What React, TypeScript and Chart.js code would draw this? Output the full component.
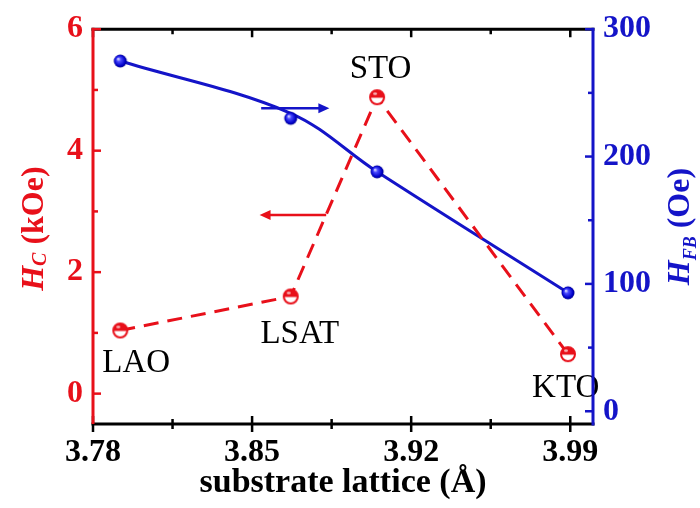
import React, { useEffect, useRef } from 'react';
import { Chart, registerables } from 'chart.js';

Chart.register(...registerables);

const RED = '#e8101a';
const BLUE = '#1414c8';
const FONT = "'Liberation Serif', 'Times New Roman', serif";

// ---- data ----
const substrates = ['LAO', 'LSAT', 'STO', 'KTO'];
const lattice = [3.792, 3.867, 3.905, 3.989];
const hcValues = [1.04, 1.6, 4.88, 0.65];
const hfbValues = [275, 230, 188, 93];
// smooth guide curve through the H_FB data
const fitX = [3.792, 3.867, 3.905, 3.989];
const fitY = [275, 234, 188, 93];

const xTicks = [3.78, 3.815, 3.85, 3.885, 3.92, 3.955, 3.99];
const xTickLabels = ['3.78', '', '3.85', '', '3.92', '', '3.99'];
const hcTicks = [0, 1, 2, 3, 4, 5, 6];
const hcTickLabels = ['0', '', '2', '', '4', '', '6'];
const hfbTicks = [0, 50, 100, 150, 200, 250, 300];
const hfbTickLabels = ['0', '', '100', '', '200', '', '300'];

// substrate label anchors (x in Å, y in kOe)
const labelX = [3.799, 3.871, 3.9065, 3.988];
const labelY = [0.5, 0.98, 5.34, 0.08];

// arrows pointing to each axis
const arrowHfbX = [3.854, 3.884];
const arrowHfbY = 238;
const arrowHcX = [3.8826, 3.8533];
const arrowHcY = 2.94;

function makeHalfMarker(): HTMLCanvasElement {
  const c = document.createElement('canvas');
  c.width = 20;
  c.height = 20;
  const g = c.getContext('2d')!;
  const cx = 10, cy = 10, r = 7;
  g.fillStyle = '#fff';
  g.beginPath();
  g.arc(cx, cy, r, 0, Math.PI * 2);
  g.fill();
  g.fillStyle = RED;
  g.beginPath();
  g.arc(cx, cy + 0.5, r, Math.PI, Math.PI * 2);
  g.closePath();
  g.fill();
  g.strokeStyle = RED;
  g.lineWidth = 2;
  g.beginPath();
  g.arc(cx, cy, r, 0, Math.PI * 2);
  g.stroke();
  g.fillStyle = 'rgba(255,255,255,0.7)';
  g.beginPath();
  g.ellipse(cx - 2, cy - 3.5, 2, 1.3, 0, 0, Math.PI * 2);
  g.fill();
  return c;
}

function makeSphere(): HTMLCanvasElement {
  const c = document.createElement('canvas');
  c.width = 16;
  c.height = 16;
  const g = c.getContext('2d')!;
  const cx = 8, cy = 8, r = 6.5;
  const grad = g.createRadialGradient(cx - 2.2, cy - 2.2, 0.3, cx, cy, r);
  grad.addColorStop(0, '#e0e0ff');
  grad.addColorStop(0.3, '#4a4aff');
  grad.addColorStop(0.8, '#0000c8');
  grad.addColorStop(1, '#00008a');
  g.fillStyle = grad;
  g.beginPath();
  g.arc(cx, cy, r, 0, Math.PI * 2);
  g.fill();
  return c;
}

function drawArrow(ctx: CanvasRenderingContext2D, x1: number, x2: number, y: number, color: string) {
  const dir = Math.sign(x2 - x1);
  const headLen = 11;
  const headHalf = 5;
  ctx.save();
  ctx.strokeStyle = color;
  ctx.fillStyle = color;
  ctx.lineWidth = 2.5;
  ctx.beginPath();
  ctx.moveTo(x1, y);
  ctx.lineTo(x2 - dir * headLen * 0.8, y);
  ctx.stroke();
  ctx.beginPath();
  ctx.moveTo(x2, y);
  ctx.lineTo(x2 - dir * headLen, y - headHalf);
  ctx.lineTo(x2 - dir * headLen, y + headHalf);
  ctx.closePath();
  ctx.fill();
  ctx.restore();
}

function drawSubTitle(
  ctx: CanvasRenderingContext2D,
  x: number,
  y: number,
  main: string,
  sub: string,
  rest: string,
  color: string,
  size: number,
  subSize: number,
  subShift: number
) {
  ctx.save();
  ctx.translate(x, y);
  ctx.rotate(-Math.PI / 2);
  ctx.fillStyle = color;
  ctx.textBaseline = 'alphabetic';
  ctx.textAlign = 'left';
  const fMain = `italic bold ${size}px ${FONT}`;
  const fSub = `italic bold ${subSize}px ${FONT}`;
  const fRest = `bold ${size}px ${FONT}`;
  ctx.font = fMain;
  const w1 = ctx.measureText(main).width;
  ctx.font = fSub;
  const w2 = ctx.measureText(sub).width;
  ctx.font = fRest;
  const w3 = ctx.measureText(rest).width;
  let cx = -(w1 + w2 + w3) / 2;
  ctx.font = fMain;
  ctx.fillText(main, cx, 0);
  cx += w1;
  ctx.font = fSub;
  ctx.fillText(sub, cx, subShift);
  cx += w2;
  ctx.font = fRest;
  ctx.fillText(rest, cx, 0);
  ctx.restore();
}

const framePlugin = {
  id: 'frame',
  afterDatasetsDraw(chart: any) {
    const ctx: CanvasRenderingContext2D = chart.ctx;
    const { left, right, top, bottom } = chart.chartArea;
    const xs = chart.scales.x;
    const yl = chart.scales.y;
    const yr = chart.scales.y1;

    // arrows
    drawArrow(ctx, xs.getPixelForValue(arrowHfbX[0]), xs.getPixelForValue(arrowHfbX[1]), yr.getPixelForValue(arrowHfbY), BLUE);
    drawArrow(ctx, xs.getPixelForValue(arrowHcX[0]), xs.getPixelForValue(arrowHcX[1]), yl.getPixelForValue(arrowHcY), RED);

    // substrate labels
    ctx.save();
    ctx.fillStyle = '#000';
    ctx.font = `33px ${FONT}`;
    ctx.textAlign = 'center';
    ctx.textBaseline = 'middle';
    substrates.forEach((s, i) => {
      ctx.fillText(s, xs.getPixelForValue(labelX[i]), yl.getPixelForValue(labelY[i]));
    });
    ctx.restore();

    // axes lines
    ctx.save();
    ctx.lineWidth = 3;
    ctx.lineCap = 'butt';
    ctx.strokeStyle = '#000';
    ctx.beginPath();
    ctx.moveTo(left - 1.5, bottom);
    ctx.lineTo(right + 1.5, bottom);
    ctx.moveTo(left - 1.5, top);
    ctx.lineTo(right + 1.5, top);
    ctx.stroke();

    // x ticks (bottom crossing, top inward)
    ctx.lineWidth = 2.5;
    xs.ticks.forEach((t: any, i: number) => {
      const px = xs.getPixelForValue(t.value);
      const major = xTickLabels[i] !== '';
      const len = major ? 8 : 5;
      ctx.beginPath();
      ctx.moveTo(px, bottom - len);
      ctx.lineTo(px, bottom + len);
      ctx.moveTo(px, top);
      ctx.lineTo(px, top + len);
      ctx.stroke();
    });

    // left axis
    ctx.strokeStyle = RED;
    ctx.lineWidth = 3;
    ctx.beginPath();
    ctx.moveTo(left, top - 1.5);
    ctx.lineTo(left, bottom);
    ctx.stroke();
    ctx.lineWidth = 2.5;
    yl.ticks.forEach((t: any, i: number) => {
      const py = yl.getPixelForValue(t.value);
      const len = hcTickLabels[i] !== '' ? 8 : 5;
      ctx.beginPath();
      ctx.moveTo(left, py);
      ctx.lineTo(left + len, py);
      ctx.stroke();
    });

    // right axis
    ctx.strokeStyle = BLUE;
    ctx.lineWidth = 3;
    ctx.beginPath();
    ctx.moveTo(right, top - 1.5);
    ctx.lineTo(right, bottom + 1.5);
    ctx.stroke();
    ctx.lineWidth = 2.5;
    yr.ticks.forEach((t: any, i: number) => {
      const py = yr.getPixelForValue(t.value);
      const len = hfbTickLabels[i] !== '' ? 8 : 5;
      ctx.beginPath();
      ctx.moveTo(right, py);
      ctx.lineTo(right - len, py);
      ctx.stroke();
    });
    ctx.restore();

    // y titles with subscripts
    drawSubTitle(ctx, 43, (top + bottom) / 2 + 2, 'H', 'C', ' (kOe)', RED, 32, 20, 3);
    drawSubTitle(ctx, 689, (top + bottom) / 2, 'H', 'FB', ' (Oe)', BLUE, 32, 18, 7);
  },
};

export default function App() {
  const ref = useRef<HTMLCanvasElement | null>(null);

  useEffect(() => {
    document.body.style.margin = '0';
    const canvas = ref.current!;
    const halfMarker = makeHalfMarker();
    const sphere = makeSphere();

    const chart = new Chart(canvas, {
      type: 'line',
      data: {
        datasets: [
          {
            label: 'HFB points',
            data: lattice.map((x, i) => ({ x, y: hfbValues[i] })),
            yAxisID: 'y1',
            showLine: false,
            pointStyle: sphere as any,
            pointRadius: 7,
            borderColor: BLUE,
            backgroundColor: BLUE,
            order: 0,
          },
          {
            label: 'HFB fit',
            data: fitX.map((x, i) => ({ x, y: fitY[i] })),
            yAxisID: 'y1',
            borderColor: BLUE,
            borderWidth: 3,
            pointRadius: 0,
            tension: 0.35,
            fill: false,
            order: 2,
          },
          {
            label: 'HC',
            data: lattice.map((x, i) => ({ x, y: hcValues[i] })),
            yAxisID: 'y',
            borderColor: RED,
            backgroundColor: RED,
            borderWidth: 3,
            borderDash: [15, 9],
            pointStyle: halfMarker as any,
            pointRadius: 8,
            tension: 0,
            fill: false,
            order: 1,
          },
        ],
      },
      options: {
        responsive: false,
        animation: false,
        events: [],
        layout: { padding: { top: 21, left: 0, right: 0, bottom: 0 } },
        plugins: {
          legend: { display: false },
          tooltip: { enabled: false },
        },
        scales: {
          x: {
            type: 'linear',
            position: 'bottom',
            min: 3.78,
            max: 4.0,
            afterBuildTicks: (s: any) => {
              s.ticks = xTicks.map((v) => ({ value: v }));
            },
            afterFit: (s: any) => {
              s.height = 84;
            },
            grid: { display: false, drawTicks: false, tickLength: 0 },
            border: { display: false },
            ticks: {
              autoSkip: false,
              maxRotation: 0,
              padding: 10,
              color: '#000',
              font: { family: FONT, size: 32, weight: 'bold' },
              callback: (_v: any, i: number) => xTickLabels[i],
            },
            title: {
              display: true,
              text: 'substrate lattice (Å)',
              color: '#000',
              font: { family: FONT, size: 34, weight: 'bold' },
              padding: { top: 0, bottom: 4 },
            },
          },
          y: {
            type: 'linear',
            position: 'left',
            min: -0.5,
            max: 6,
            afterBuildTicks: (s: any) => {
              s.ticks = hcTicks.map((v) => ({ value: v }));
            },
            afterFit: (s: any) => {
              s.width = 93;
            },
            grid: { display: false, drawTicks: false, tickLength: 0 },
            border: { display: false },
            ticks: {
              autoSkip: false,
              padding: 10,
              color: RED,
              font: { family: FONT, size: 32, weight: 'bold' },
              callback: (_v: any, i: number) => hcTickLabels[i],
            },
          },
          y1: {
            type: 'linear',
            position: 'right',
            min: -10,
            max: 300,
            afterBuildTicks: (s: any) => {
              s.ticks = hfbTicks.map((v) => ({ value: v }));
            },
            afterFit: (s: any) => {
              s.width = 107;
            },
            grid: { display: false, drawTicks: false, tickLength: 0 },
            border: { display: false },
            ticks: {
              autoSkip: false,
              padding: 10,
              color: BLUE,
              font: { family: FONT, size: 32, weight: 'bold' },
              callback: (_v: any, i: number) => hfbTickLabels[i],
            },
          },
        },
      },
      plugins: [framePlugin],
    } as any);

    return () => {
      chart.destroy();
    };
  }, []);

  return (
    <div style={{ width: 700, height: 508, background: '#fff' }}>
      <canvas ref={ref} width={700} height={508} style={{ display: 'block' }} />
    </div>
  );
}
